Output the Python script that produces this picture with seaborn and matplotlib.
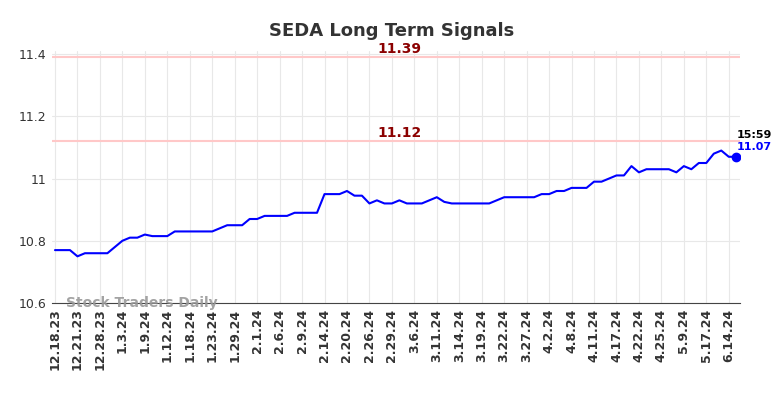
import matplotlib
matplotlib.use("Agg")
import matplotlib.pyplot as plt
import numpy as np
import pandas as pd
import seaborn as sns

# --- data ---
tick_labels = [
    "12.18.23", "12.21.23", "12.28.23", "1.3.24", "1.9.24", "1.12.24", "1.18.24",
    "1.23.24", "1.29.24", "2.1.24", "2.6.24", "2.9.24", "2.14.24", "2.20.24",
    "2.26.24", "2.29.24", "3.6.24", "3.11.24", "3.14.24", "3.19.24", "3.22.24",
    "3.27.24", "4.2.24", "4.8.24", "4.11.24", "4.17.24", "4.22.24", "4.25.24",
    "5.9.24", "5.17.24", "6.14.24",
]
prices = [
    10.77, 10.77, 10.77, 10.75, 10.76, 10.76, 10.76, 10.76, 10.78, 10.80,
    10.81, 10.81, 10.82, 10.815, 10.815, 10.815, 10.83, 10.83, 10.83, 10.83,
    10.83, 10.83, 10.84, 10.85, 10.85, 10.85, 10.87, 10.87, 10.88, 10.88,
    10.88, 10.88, 10.89, 10.89, 10.89, 10.89, 10.95, 10.95, 10.95, 10.96,
    10.945, 10.945, 10.92, 10.93, 10.92, 10.92, 10.93, 10.92, 10.92, 10.92,
    10.93, 10.94, 10.925, 10.92, 10.92, 10.92, 10.92, 10.92, 10.92, 10.93,
    10.94, 10.94, 10.94, 10.94, 10.94, 10.95, 10.95, 10.96, 10.96, 10.97,
    10.97, 10.97, 10.99, 10.99, 11.00, 11.01, 11.01, 11.04, 11.02, 11.03,
    11.03, 11.03, 11.03, 11.02, 11.04, 11.03, 11.05, 11.05, 11.08, 11.09,
    11.07, 11.07,
]
levels = [11.39, 11.12]
last_time = "15:59"

df = pd.DataFrame({"idx": np.arange(len(prices)), "price": prices})

sns.set_style("whitegrid")
plt.rcParams["font.family"] = ["DejaVu Sans"]

fig = plt.figure(figsize=(7.84, 3.98), dpi=100)
ax = fig.add_axes([52 / 784, 95 / 398, 688 / 784, 252 / 398])

sns.lineplot(data=df, x="idx", y="price", color="#0000ff", linewidth=1.5, ax=ax)
ax.plot(df["idx"].iloc[-1], df["price"].iloc[-1], "o", color="#0000ff", markersize=6)

for lv in levels:
    ax.axhline(lv, color="#ffc8c8", linewidth=1.5, zorder=1)
    ax.text(len(prices) * 0.5, lv + 0.004, f"{lv:.2f}", color="#8b0000",
            fontsize=10, fontweight="bold", ha="center", va="bottom")

ax.text(len(prices) - 1, df["price"].iloc[-1] + 0.055, last_time, color="black",
        fontsize=8, fontweight="bold", ha="left", va="bottom")
ax.text(len(prices) - 1, df["price"].iloc[-1] + 0.015, f"{prices[-1]:.2f}", color="#0000ff",
        fontsize=8, fontweight="bold", ha="left", va="bottom")

ax.text(1.5, 10.6, "Stock Traders Daily", color="#999999", fontsize=10,
        fontweight="bold", ha="left", va="center", alpha=0.9)

ax.set_xlim(-0.4, len(prices) - 0.5)
ax.set_ylim(10.6, 11.41)
ax.set_xticks(np.arange(0, len(tick_labels) * 3, 3))
ax.set_xticklabels(tick_labels, rotation=90, fontsize=9, fontweight="bold", color="#333333")
ax.set_yticks([10.6, 10.8, 11.0, 11.2, 11.4])
ax.set_yticklabels(["10.6", "10.8", "11", "11.2", "11.4"], fontsize=9, color="#333333")
ax.set_xlabel("")
ax.set_ylabel("")
ax.grid(True, color="#e8e8e8", linewidth=0.8)
for side in ["left", "right", "top"]:
    ax.spines[side].set_visible(False)
ax.spines["bottom"].set_visible(True)
ax.spines["bottom"].set_color("#444444")
ax.tick_params(axis="both", length=0, pad=4)

fig.suptitle("SEDA Long Term Signals", x=0.5, y=0.945, fontsize=13, fontweight="bold", color="#333333")

fig.savefig("out.png", dpi=100)
